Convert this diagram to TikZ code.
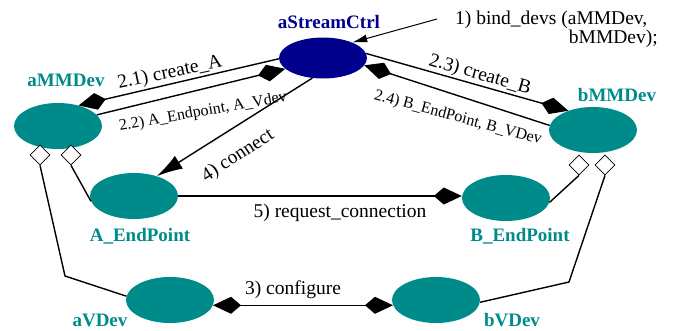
\documentclass[tikz,border=0pt]{standalone}
\usepackage{fontspec}
\setmainfont{Liberation Serif}
\usetikzlibrary{arrows.meta,shapes.geometric}
\definecolor{devteal}{RGB}{0,139,139}
\definecolor{ctrlnavy}{RGB}{0,0,140}
\begin{document}
\begin{tikzpicture}[x=1pt,y=-1pt,
  dev/.style={ellipse, fill=devteal, minimum width=88pt, minimum height=46pt, inner sep=0pt},
  ctrlnode/.style={ellipse, fill=ctrlnavy, minimum width=88pt, minimum height=41pt, inner sep=0pt},
  devlabel/.style={font=\fontsize{19}{22}\selectfont\bfseries, text=devteal, inner sep=0pt},
  msg/.style={font=\fontsize{19.5}{22}\selectfont, inner sep=0pt},
  smallmsg/.style={font=\fontsize{16}{19}\selectfont, inner sep=0pt},
  conn/.style={line width=1.4pt},
  kitetip/.tip={Kite[length=28pt,width=17pt,inset=10pt]},
  kitehead/.style={-kitetip},
  kitesboth/.style={kitetip-kitetip},
  agg/.style={diamond, draw=black, fill=white, line width=0.8pt, minimum width=20pt, minimum height=20pt, inner sep=0pt},
]
\useasboundingbox (0,0) rectangle (673,330);

% main objects
\node[ctrlnode] (ctrl) at (323,58) {};
\node[dev] (ammdev) at (58,126) {};
\node[dev] (bmmdev) at (593,130) {};
\node[dev] (aep) at (134,196) {};
\node[dev] (bep) at (506,198) {};
\node[dev] (avdev) at (170,300) {};
\node[dev] (bvdev) at (436,300) {};

% object names
\node[devlabel, text=ctrlnavy] (ctrllbl) at (329,22) {aStreamCtrl};
\node[devlabel] (ammlbl) at (66,80) {aMMDev};
\node[devlabel] (bmmlbl) at (617,95) {bMMDev};
\node[devlabel] (aeplbl) at (140,236) {A\_EndPoint};
\node[devlabel] (beplbl) at (520,236) {B\_EndPoint};
\node[devlabel] (avlbl) at (100,320) {aVDev};
\node[devlabel] (bvlbl) at (512,320) {bVDev};

% 1) bind_devs
\node[msg, anchor=west] (bind1) at (455,20) {1) bind\_devs (aMMDev,};
\node[msg, anchor=east] (bind2) at (658,39) {bMMDev);};
\coordinate (bindstart) at (437,19);
\draw[line width=1pt, -{Latex[length=15pt,width=8pt]}] (bindstart) -- (ctrl.28);

% messages
\draw[conn, kitehead] (ctrl.181) -- (ammdev.45);
\draw[conn, kitehead] (ammdev.16) -- (ctrl.196);
\draw[conn, kitehead] (ctrl.6) -- (bmmdev.142);
\draw[conn, kitehead] (bmmdev.174) -- (ctrl.350);
\draw[conn, -{Latex[length=26pt,width=15pt]}] (ctrl.242) -- (aep.41);
\draw[conn, kitehead] (aep.east) -- (aep.east -| bep.west);
\draw[conn, kitesboth] (avdev.-7) -- (bvdev.187);

\node[msg, rotate=12] (l21) at (170,73) {2.1) create\_A};
\node[smallmsg, rotate=10] (l22) at (203,112) {2.2) A\_Endpoint, A\_Vdev};
\node[msg, rotate=-16] (l23) at (480,75) {2.3) create\_B};
\node[smallmsg, rotate=-15] (l24) at (458,118) {2.4) B\_EndPoint, B\_VDev};
\node[msg, rotate=33] (l4) at (238,156) {4) connect};
\node[msg] (l5) at (340,213) {5) request\_connection};
\node[msg] (l3) at (293,290) {3) configure};

% aggregations
\coordinate (bendA) at (65,276);
\coordinate (bendB) at (569,282);
\node[agg] (dA1) at (40,155) {};
\node[agg] (dA2) at (71,155) {};
\node[agg] (dB1) at (579,165) {};
\node[agg] (dB2) at (605,165) {};
\draw[conn] (dA1.south) -- (bendA) -- (avdev.175);
\draw[conn] (dA2.south) -- (aep.187);
\draw[conn] (dB1.south) -- (bep.354);
\draw[conn] (dB2.south) -- (bendB) -- (bvdev.-3);
\end{tikzpicture}
\end{document}
